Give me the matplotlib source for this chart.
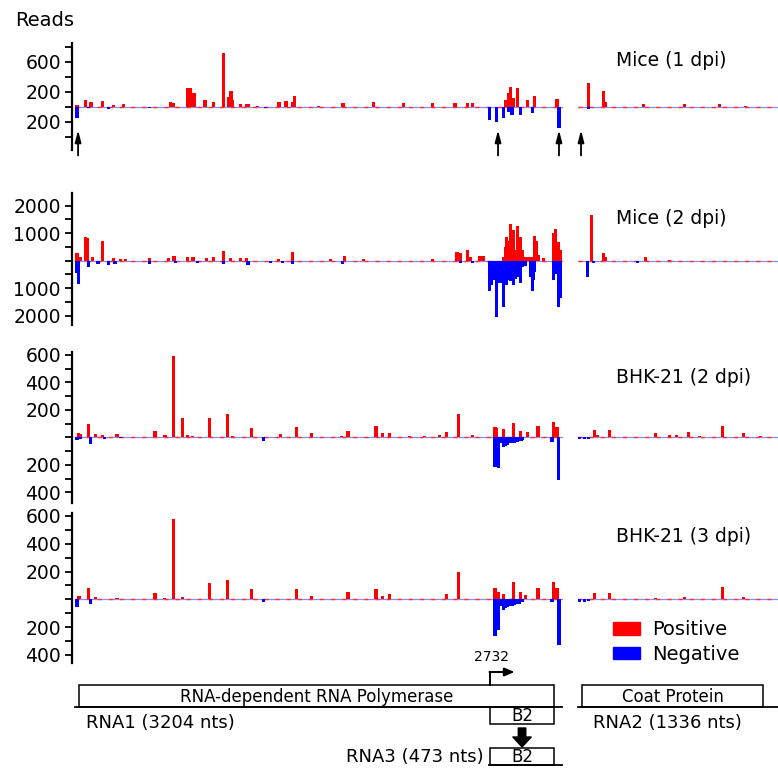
import matplotlib
matplotlib.use("Agg")
import matplotlib.pyplot as plt
from matplotlib.patches import Rectangle, Patch

plt.rcParams['font.family'] = ['DejaVu Sans']

W, H = 778, 771

# genome layout (nt)
rna1_len = 3204
rna2_len = 1336
rna2_start = 3309          # where RNA2 is drawn on the shared x axis
b2_start = 2732
rna3_len = 473
xlim = (-20, 4625)

# read coverage: (position in nt, reads)
mice1_rna1_pos = [(13, 20), (66, 89), (105, 58), (178, 80), (250, 22), (316, 30),
                  (625, 67), (645, 53), (743, 244), (757, 244), (776, 178), (789, 178),
                  (855, 89), (908, 67), (974, 720), (1013, 133), (1026, 213), (1039, 89),
                  (1086, 35), (1125, 35), (1138, 30), (1200, 15), (1342, 67), (1388, 75),
                  (1428, 67), (1447, 147), (1600, 15), (1763, 44), (1961, 58), (2158, 44),
                  (2349, 44), (2500, 44), (2579, 53), (2618, 44), (2829, 89), (2849, 178),
                  (2868, 258), (2882, 110), (2914, 244), (2974, 89), (3026, 147), (3171, 100)]
mice1_rna1_neg = [(13, 155), (86, 22), (217, 25), (493, 18), (1250, 15), (2730, 180),
                  (2776, 200), (2816, 155), (2849, 67), (2875, 110), (2928, 110),
                  (3007, 90), (3184, 280)]
mice1_rna2_pos = [(67, 320), (167, 213), (180, 60), (433, 40), (700, 30), (933, 30), (1100, 15)]
mice1_rna2_neg = [(67, 35)]

mice2_rna1_pos = [(13, 265), (39, 145), (66, 870), (79, 810), (112, 120), (178, 730),
                  (250, 110), (296, 60), (329, 60), (493, 110), (612, 85), (651, 170),
                  (743, 120), (776, 120), (868, 110), (908, 145), (974, 350), (1020, 85),
                  (1086, 85), (1125, 85), (1336, 50), (1428, 315), (1678, 50), (1776, 170),
                  (1895, 50), (2349, 50), (2513, 315), (2533, 265), (2579, 390), (2599, 120),
                  (2664, 170), (2684, 170), (2816, 150), (2829, 510), (2836, 870), (2849, 630),
                  (2855, 700), (2862, 900), (2868, 1330), (2882, 1115), (2895, 390),
                  (2901, 250), (2914, 1260), (2921, 700), (2928, 870), (2941, 390),
                  (2954, 150), (2974, 120), (3000, 130), (3013, 150), (3026, 900),
                  (3033, 700), (3039, 510), (3046, 200), (3079, 85), (3151, 1000),
                  (3164, 1140), (3178, 690), (3191, 390)]
mice2_rna1_neg = [(7, 460), (20, 850), (86, 220), (151, 120), (217, 160), (263, 120),
                  (493, 120), (658, 100), (803, 100), (974, 130), (1138, 160), (1283, 70),
                  (1368, 100), (1428, 130), (1757, 130), (2539, 100), (2618, 70),
                  (2724, 1090), (2737, 900), (2750, 700), (2763, 600), (2776, 2060),
                  (2796, 820), (2809, 500), (2822, 1670), (2836, 900), (2842, 700),
                  (2855, 600), (2862, 750), (2875, 700), (2882, 885), (2895, 650),
                  (2908, 400), (2921, 600), (2928, 820), (2947, 220), (2961, 200),
                  (2994, 600), (3007, 1090), (3013, 700), (3020, 400), (3151, 700),
                  (3164, 500), (3178, 1670), (3191, 1370)]
mice2_rna2_pos = [(87, 1680), (167, 265), (180, 120), (447, 120), (600, 20)]
mice2_rna2_neg = [(60, 580), (100, 100), (393, 70)]

bhk2_rna1_pos = [(20, 30), (33, 22), (86, 95), (132, 22), (178, 17), (276, 22), (526, 48),
                 (592, 17), (645, 590), (704, 138), (737, 17), (770, 12), (882, 138),
                 (1000, 167), (1039, 12), (1158, 65), (1349, 22), (1454, 73), (1460, 58),
                 (1553, 29), (1750, 12), (1796, 48), (1980, 85), (2020, 29), (2072, 34),
                 (2200, 10), (2300, 12), (2400, 15), (2447, 36), (2520, 167), (2618, 17),
                 (2763, 73), (2776, 65), (2816, 58), (2882, 106), (2928, 48), (2974, 40),
                 (3046, 82), (3151, 114), (3171, 73)]
bhk2_rna1_neg = [(13, 20), (33, 15), (99, 50), (191, 12), (300, 8), (1243, 27),
                 (2763, 218), (2789, 225), (2802, 40), (2816, 68), (2829, 60), (2842, 56),
                 (2855, 45), (2875, 44), (2888, 40), (2908, 32), (2921, 30), (2934, 25),
                 (2947, 20), (3138, 32), (3178, 310)]
bhk2_rna2_pos = [(107, 53), (127, 20), (207, 53), (513, 34), (600, 15), (650, 15),
                 (727, 36), (800, 12), (953, 82), (1087, 29), (1200, 10)]
bhk2_rna2_neg = [(13, 15), (40, 15), (67, 12)]

bhk3_rna1_pos = [(26, 27), (86, 80), (132, 15), (276, 12), (526, 44), (586, 12),
                 (645, 576), (704, 15), (882, 116), (1000, 140), (1158, 73), (1454, 73),
                 (1553, 27), (1796, 51), (1980, 73), (2020, 27), (2072, 39), (2447, 36),
                 (2520, 194), (2763, 80), (2783, 56), (2816, 36), (2882, 128), (2928, 56),
                 (2961, 30), (3046, 85), (3151, 128), (3171, 80)]
bhk3_rna1_neg = [(13, 53), (99, 36), (1237, 17), (2763, 266), (2789, 223), (2802, 45),
                 (2822, 77), (2829, 60), (2842, 58), (2855, 50), (2875, 48), (2888, 40),
                 (2908, 34), (2921, 30), (2947, 20), (3138, 20), (3184, 332)]
bhk3_rna2_pos = [(107, 44), (207, 44), (513, 12), (700, 15), (953, 87), (1087, 15)]
bhk3_rna2_neg = [(13, 17), (40, 17), (67, 12)]

panel_names = ["Mice (1 dpi)", "Mice (2 dpi)", "BHK-21 (2 dpi)", "BHK-21 (3 dpi)"]


def px_rect(left, top, right, bottom):
    return [left / W, 1 - bottom / H, (right - left) / W, (bottom - top) / H]


def draw_track(ax, rna1_pos, rna1_neg, rna2_pos, rna2_neg):
    for seg_off, pos, neg in [(0, rna1_pos, rna1_neg), (rna2_start, rna2_pos, rna2_neg)]:
        ax.bar([seg_off + p for p, _ in pos], [r for _, r in pos], width=20,
               color='#ff0000', linewidth=0, zorder=3)
        ax.bar([seg_off + p for p, _ in neg], [-r for _, r in neg], width=20,
               color='#0000ff', linewidth=0, zorder=3)
    for a, b in [(0, rna1_len), (rna2_start, rna2_start + rna2_len)]:
        ax.plot([a, b], [0, 0], color='#8a8aff', lw=0.9, zorder=2)
        ax.plot([a, b], [0, 0], color='#ff3030', lw=1.0, dashes=(3, 5), zorder=2)


def style_axis(ax, ylim, ticks, labelled):
    ax.set_xlim(*xlim)
    ax.set_ylim(*ylim)
    for s in ['top', 'right', 'bottom']:
        ax.spines[s].set_visible(False)
    ax.spines['left'].set_linewidth(1.6)
    ax.set_xticks([])
    ax.set_yticks(ticks)
    ax.set_yticklabels([str(abs(t)) if t in labelled else '' for t in ticks])
    ax.tick_params(axis='y', length=5, width=1.3, pad=3, labelsize=13.5)
    ax.patch.set_alpha(0)


fig = plt.figure(figsize=(W / 100, H / 100), dpi=100)

ax1 = fig.add_axes(px_rect(72, 43, 778, 150))
draw_track(ax1, mice1_rna1_pos, mice1_rna1_neg, mice1_rna2_pos, mice1_rna2_neg)
style_axis(ax1, (-577, 849), list(range(-400, 801, 200)), [600, 200, -200])

ax2 = fig.add_axes(px_rect(72, 193, 778, 325))
draw_track(ax2, mice2_rna1_pos, mice2_rna1_neg, mice2_rna2_pos, mice2_rna2_neg)
style_axis(ax2, (-2338, 2462), list(range(-2000, 2001, 500)), [2000, 1000, -1000, -2000])

ax3 = fig.add_axes(px_rect(72, 352, 778, 503))
draw_track(ax3, bhk2_rna1_pos, bhk2_rna1_neg, bhk2_rna2_pos, bhk2_rna2_neg)
style_axis(ax3, (-478, 620), list(range(-400, 601, 100)), [600, 400, 200, -200, -400])

ax4 = fig.add_axes(px_rect(72, 513, 778, 663))
draw_track(ax4, bhk3_rna1_pos, bhk3_rna1_neg, bhk3_rna2_pos, bhk3_rna2_neg)
style_axis(ax4, (-458, 621), list(range(-400, 601, 100)), [600, 400, 200, -200, -400])

fig.text(15 / W, 1 - 20 / H, "Reads", fontsize=14, va='center', ha='left')

for name, y in zip(panel_names, [61, 218, 377, 536]):
    fig.text(616 / W, 1 - y / H, name, fontsize=13.5, va='center', ha='left')

# arrows under the first track
for x in [20, 2783, 3184, rna2_start + 20]:
    ax1.annotate('', xy=(x, -311), xytext=(x, -650), annotation_clip=False,
                 arrowprops=dict(arrowstyle='-|>,head_width=0.18,head_length=0.7',
                                 color='k', lw=1.3, shrinkA=0, shrinkB=0))

fig.legend([Patch(color='#ff0000'), Patch(color='#0000ff')], ["Positive", "Negative"],
           loc='upper left', bbox_to_anchor=(613 / W, 1 - 620 / H), frameon=False,
           fontsize=14, handlelength=1.4, handleheight=0.65, handletextpad=0.6,
           labelspacing=0.3, borderpad=0, borderaxespad=0)

# genome organisation
axg = fig.add_axes(px_rect(72, 640, 778, 771))
axg.set_xlim(*xlim)
axg.set_ylim(771, 640)
axg.axis('off')

axg.plot([0, rna1_len], [707, 707], color='k', lw=1.3)
axg.plot([rna2_start, rna2_start + rna2_len], [707, 707], color='k', lw=1.3)
axg.add_patch(Rectangle((26, 685), 3151 - 26, 22, fc='white', ec='k', lw=1.1))
axg.text((26 + 3151) / 2, 697, "RNA-dependent RNA Polymerase", fontsize=12,
         ha='center', va='center')
axg.add_patch(Rectangle((b2_start, 707), 3151 - b2_start, 17, fc='white', ec='k', lw=1.1))
axg.text((b2_start + 3151) / 2, 716, "B2", fontsize=12, ha='center', va='center')

axg.plot([b2_start, b2_start], [685, 672], color='k', lw=1.4)
axg.annotate('', xy=(b2_start + 160, 672), xytext=(b2_start - 5, 672),
             arrowprops=dict(arrowstyle='-|>,head_width=0.25,head_length=0.6',
                             color='k', lw=1.4, shrinkA=0, shrinkB=0))
axg.text(b2_start + 5, 657, str(b2_start), fontsize=10, ha='center', va='center')

axg.annotate('', xy=(2941, 747), xytext=(2941, 728),
             arrowprops=dict(arrowstyle='simple,head_length=0.6,head_width=1.1,tail_width=0.45',
                             color='k', mutation_scale=12, shrinkA=0, shrinkB=0))

axg.add_patch(Rectangle((b2_start, 748), 3151 - b2_start, 17, fc='white', ec='k', lw=1.1))
axg.text((b2_start + 3151) / 2, 757, "B2", fontsize=12, ha='center', va='center')
axg.plot([b2_start - 10, b2_start + rna3_len], [765, 765], color='k', lw=1.3)
axg.text(2690, 757, "RNA3 (%d nts)" % rna3_len, fontsize=13, ha='right', va='center')

axg.add_patch(Rectangle((rna2_start + 26, 685), 1191, 22, fc='white', ec='k', lw=1.1))
axg.text(rna2_start + 26 + 1191 / 2, 697, "Coat Protein", fontsize=12,
         ha='center', va='center')

axg.text(72, 723, "RNA1 (%d nts)" % rna1_len, fontsize=13, ha='left', va='center')
axg.text(rna2_start + 99, 723, "RNA2 (%d nts)" % rna2_len, fontsize=13,
         ha='left', va='center')

fig.savefig("out.png", dpi=100)
